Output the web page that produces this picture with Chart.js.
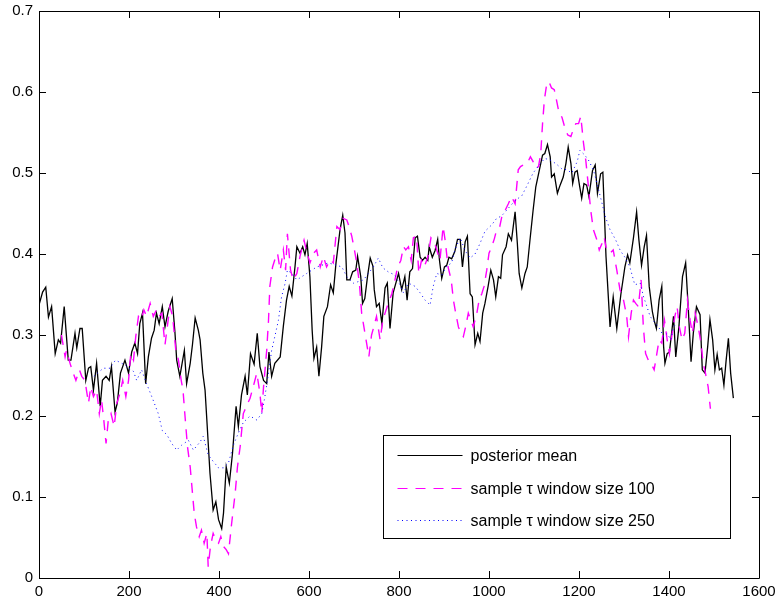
<!DOCTYPE html>
<html>
<head>
<meta charset="utf-8">
<script src="https://cdn.jsdelivr.net/npm/chart.js@4.4.1/dist/chart.umd.min.js"></script>
<style>
html,body{margin:0;padding:0;background:#fff;}
#wrap{width:778px;height:604px;position:relative;}
</style>
</head>
<body>
<div id="wrap"><canvas id="c" width="778" height="604"></canvas></div>
<script>
// ---- tick labels ----
const xTicks = [0, 200, 400, 600, 800, 1000, 1200, 1400, 1600];
const yTicks = [0, 0.1, 0.2, 0.3, 0.4, 0.5, 0.6, 0.7];

// ---- series labels ----
const seriesNames = ['posterior mean', 'sample \u03C4 window size 100', 'sample \u03C4 window size 250'];

// ---- posterior mean ----
const pmX = [0,8,15,21,28,36,43,48,56,65,71,80,84,91,96,104,110,115,121,128,136,141,149,156,161,169,174,181,191,199,206,213,219,224,230,237,243,250,256,261,267,274,280,287,296,302,306,313,323,328,336,341,347,354,358,364,369,373,380,387,393,399,406,410,416,423,430,438,443,450,458,463,470,478,485,491,499,506,511,517,524,536,543,550,556,562,569,573,580,586,591,596,602,607,611,617,622,628,633,641,648,654,660,669,675,680,684,691,697,704,708,715,719,724,730,736,742,745,750,756,762,769,774,780,787,799,806,813,818,824,830,836,841,847,852,858,864,867,874,880,886,890,895,901,906,911,917,924,930,936,941,947,952,958,963,969,975,980,986,991,998,1004,1010,1015,1021,1026,1030,1038,1043,1050,1058,1063,1067,1073,1080,1085,1091,1098,1104,1112,1119,1124,1130,1136,1139,1145,1152,1158,1165,1171,1176,1182,1186,1191,1196,1201,1206,1211,1217,1222,1230,1236,1241,1248,1253,1260,1269,1276,1284,1293,1302,1308,1313,1321,1328,1333,1339,1345,1350,1356,1363,1367,1372,1378,1384,1388,1391,1396,1401,1410,1415,1422,1430,1437,1443,1449,1454,1461,1469,1474,1480,1486,1491,1497,1502,1507,1512,1517,1522,1527,1532,1537,1543];
const pmY = [0.337,0.353,0.359,0.322,0.335,0.277,0.294,0.29,0.335,0.269,0.269,0.302,0.284,0.308,0.308,0.244,0.259,0.261,0.232,0.265,0.212,0.244,0.249,0.244,0.261,0.205,0.216,0.253,0.269,0.253,0.279,0.29,0.277,0.314,0.327,0.24,0.273,0.296,0.306,0.327,0.314,0.335,0.31,0.329,0.345,0.304,0.269,0.249,0.281,0.24,0.265,0.288,0.321,0.306,0.294,0.253,0.232,0.195,0.129,0.084,0.094,0.072,0.061,0.08,0.137,0.117,0.154,0.212,0.187,0.226,0.249,0.226,0.277,0.264,0.302,0.261,0.244,0.24,0.279,0.249,0.265,0.273,0.311,0.343,0.36,0.348,0.385,0.409,0.401,0.409,0.399,0.413,0.372,0.306,0.271,0.285,0.249,0.285,0.323,0.335,0.362,0.352,0.389,0.43,0.448,0.426,0.368,0.368,0.378,0.38,0.397,0.372,0.339,0.345,0.372,0.395,0.385,0.356,0.335,0.339,0.314,0.358,0.364,0.308,0.352,0.376,0.356,0.372,0.343,0.378,0.382,0.42,0.422,0.396,0.392,0.396,0.392,0.409,0.396,0.404,0.418,0.392,0.37,0.384,0.386,0.396,0.394,0.403,0.418,0.418,0.384,0.415,0.422,0.351,0.347,0.288,0.302,0.292,0.327,0.339,0.36,0.38,0.368,0.347,0.372,0.37,0.399,0.409,0.425,0.417,0.452,0.413,0.376,0.358,0.376,0.384,0.417,0.454,0.483,0.504,0.522,0.524,0.535,0.52,0.495,0.499,0.475,0.485,0.495,0.512,0.532,0.512,0.487,0.501,0.503,0.485,0.469,0.487,0.485,0.471,0.503,0.51,0.475,0.499,0.501,0.397,0.31,0.347,0.308,0.35,0.384,0.399,0.389,0.42,0.452,0.418,0.386,0.409,0.423,0.36,0.329,0.318,0.308,0.343,0.36,0.286,0.265,0.277,0.279,0.323,0.273,0.31,0.372,0.389,0.331,0.267,0.302,0.335,0.325,0.257,0.253,0.286,0.319,0.294,0.257,0.276,0.257,0.259,0.238,0.269,0.296,0.253,0.222];

// ---- sample tau, window 100 ----
const w100X = [50,58,61,69,76,82,90,95,102,110,115,121,128,134,139,144,149,154,160,167,173,180,186,193,199,204,210,215,221,227,233,239,247,254,261,267,273,280,286,291,297,304,310,316,320,324,330,336,341,345,350,356,361,367,373,376,381,387,393,399,404,410,416,421,428,436,441,447,454,461,469,476,484,491,495,499,506,510,513,519,524,530,536,543,548,552,559,565,573,580,589,594,602,610,617,625,632,639,647,654,662,669,676,684,689,695,701,706,712,717,722,728,733,739,744,750,758,764,769,776,784,791,797,804,810,815,821,827,832,839,844,850,856,864,871,878,884,891,898,903,909,916,921,926,932,938,943,948,954,960,965,973,978,984,989,995,1000,1006,1012,1017,1024,1030,1036,1043,1050,1058,1065,1070,1077,1085,1092,1098,1104,1110,1115,1119,1123,1128,1133,1139,1145,1150,1156,1162,1169,1175,1182,1188,1193,1199,1204,1210,1215,1221,1226,1232,1240,1245,1251,1256,1261,1269,1276,1284,1291,1299,1306,1310,1316,1321,1326,1332,1338,1343,1348,1354,1360,1367,1373,1378,1384,1390,1396,1401,1407,1413,1418,1423,1429,1435,1441,1447,1452,1458,1465,1471,1476,1481,1487,1492];
const w100Y = [0.3,0.273,0.281,0.265,0.253,0.244,0.257,0.249,0.244,0.216,0.236,0.224,0.232,0.203,0.22,0.195,0.166,0.195,0.203,0.187,0.216,0.228,0.244,0.224,0.244,0.277,0.269,0.298,0.323,0.319,0.331,0.323,0.339,0.323,0.331,0.323,0.327,0.288,0.314,0.335,0.323,0.281,0.269,0.244,0.232,0.203,0.162,0.137,0.105,0.08,0.063,0.051,0.059,0.043,0.055,0.014,0.039,0.055,0.047,0.043,0.051,0.039,0.035,0.03,0.067,0.105,0.137,0.162,0.203,0.212,0.222,0.236,0.253,0.228,0.203,0.236,0.281,0.318,0.36,0.384,0.393,0.401,0.38,0.405,0.38,0.425,0.38,0.368,0.376,0.397,0.417,0.405,0.389,0.401,0.405,0.384,0.397,0.384,0.393,0.389,0.434,0.43,0.444,0.442,0.434,0.422,0.405,0.389,0.364,0.327,0.31,0.29,0.273,0.3,0.31,0.323,0.294,0.318,0.327,0.339,0.351,0.368,0.384,0.392,0.409,0.405,0.409,0.392,0.42,0.422,0.376,0.392,0.384,0.396,0.42,0.415,0.405,0.392,0.434,0.415,0.384,0.368,0.343,0.327,0.31,0.302,0.298,0.31,0.327,0.318,0.31,0.327,0.343,0.351,0.36,0.38,0.401,0.409,0.419,0.43,0.434,0.45,0.454,0.462,0.471,0.462,0.504,0.508,0.51,0.512,0.52,0.514,0.506,0.508,0.524,0.561,0.59,0.609,0.613,0.605,0.603,0.59,0.573,0.569,0.555,0.547,0.545,0.555,0.561,0.561,0.57,0.537,0.516,0.483,0.454,0.43,0.417,0.405,0.413,0.421,0.405,0.401,0.405,0.38,0.356,0.343,0.323,0.298,0.327,0.343,0.339,0.335,0.368,0.31,0.277,0.269,0.265,0.257,0.277,0.294,0.29,0.318,0.294,0.277,0.302,0.323,0.335,0.31,0.294,0.302,0.343,0.318,0.302,0.327,0.31,0.29,0.265,0.253,0.236,0.209];

// ---- sample tau, window 250 ----
const w250X = [122,128,143,158,170,191,210,217,228,239,252,265,274,284,295,306,317,332,343,358,365,376,387,399,410,421,432,443,454,469,484,495,502,510,517,524,532,539,547,552,562,573,584,595,606,617,628,643,662,673,684,699,710,721,732,743,754,764,776,791,802,810,821,836,847,858,869,876,884,895,906,917,924,936,947,958,969,980,991,1006,1017,1028,1039,1058,1073,1085,1098,1113,1124,1136,1150,1162,1173,1184,1196,1202,1213,1221,1232,1240,1251,1258,1269,1281,1292,1302,1313,1324,1336,1343,1351,1358,1369,1380,1388,1396,1404,1410,1418];
const w250Y = [0.249,0.252,0.259,0.259,0.269,0.263,0.255,0.244,0.257,0.24,0.222,0.203,0.182,0.177,0.166,0.158,0.164,0.17,0.158,0.168,0.175,0.152,0.144,0.136,0.136,0.142,0.164,0.179,0.192,0.2,0.195,0.203,0.224,0.253,0.281,0.298,0.318,0.347,0.364,0.38,0.376,0.368,0.372,0.376,0.38,0.384,0.386,0.389,0.386,0.384,0.372,0.364,0.366,0.368,0.376,0.384,0.395,0.383,0.378,0.374,0.362,0.352,0.364,0.36,0.352,0.343,0.337,0.36,0.376,0.374,0.385,0.389,0.405,0.42,0.404,0.395,0.4,0.413,0.428,0.436,0.444,0.447,0.454,0.466,0.472,0.485,0.5,0.511,0.518,0.516,0.511,0.505,0.504,0.5,0.514,0.528,0.522,0.516,0.504,0.487,0.463,0.447,0.43,0.418,0.404,0.396,0.384,0.362,0.364,0.348,0.335,0.323,0.315,0.307,0.298,0.302,0.294,0.31,0.315];

function zip(xs, ys){ return xs.map((x,i)=>({x:x, y:ys[i]})); }

const FONT = '"Liberation Sans", Arial, Helvetica, sans-serif';

const framePlugin = {
  id: 'frame',
  afterDraw(chart){
    const ctx = chart.ctx, a = chart.chartArea;
    const xs = chart.scales.x, ys = chart.scales.y;
    ctx.save();
    ctx.strokeStyle = '#000';
    ctx.lineWidth = 1;
    ctx.beginPath();
    ctx.rect(Math.round(a.left)+0.5, Math.round(a.top)+0.5, Math.round(a.right-a.left), Math.round(a.bottom-a.top));
    ctx.stroke();
    const tl = 7;
    ctx.beginPath();
    xTicks.forEach(v=>{
      const p = Math.round(xs.getPixelForValue(v))+0.5;
      ctx.moveTo(p, a.bottom); ctx.lineTo(p, a.bottom - tl);
      ctx.moveTo(p, a.top); ctx.lineTo(p, a.top + tl);
    });
    yTicks.forEach(v=>{
      const p = Math.round(ys.getPixelForValue(v))+0.5;
      ctx.moveTo(a.left, p); ctx.lineTo(a.left + tl, p);
      ctx.moveTo(a.right, p); ctx.lineTo(a.right - tl, p);
    });
    ctx.stroke();

    // legend
    const L = Math.round(a.left + 344)+0.5, T = Math.round(a.top + 424)+0.5, W = 347, H = 103;
    ctx.fillStyle = '#fff';
    ctx.fillRect(L, T, W, H);
    ctx.strokeStyle = '#000';
    ctx.lineWidth = 1;
    ctx.strokeRect(L, T, W, H);
    const rows = [19, 52, 84];
    ctx.font = '16px ' + FONT;
    ctx.textBaseline = 'middle';
    ctx.textAlign = 'left';
    chart.data.datasets.forEach((ds, i)=>{
      const y = Math.round(T + rows[i]) + 0.5;
      ctx.beginPath();
      ctx.strokeStyle = ds.borderColor;
      ctx.lineWidth = Math.min(ds.borderWidth, 1.2);
      ctx.setLineDash(ds.borderDash || []);
      ctx.moveTo(L + 14, y); ctx.lineTo(L + 79, y);
      ctx.stroke();
      ctx.setLineDash([]);
      ctx.fillStyle = '#000';
      ctx.fillText(ds.label, L + 87, y + 1);
    });
    ctx.restore();
  }
};

new Chart(document.getElementById('c'), {
  type: 'line',
  data: {
    datasets: [
      { label: seriesNames[0], data: zip(pmX, pmY), borderColor: '#000000', borderWidth: 1.3, pointRadius: 0, tension: 0, order: 2 },
      { label: seriesNames[1], data: zip(w100X, w100Y), borderColor: '#ff00ff', borderWidth: 1.4, borderDash: [10, 8], pointRadius: 0, tension: 0, order: 1 },
      { label: seriesNames[2], data: zip(w250X, w250Y), borderColor: '#0000ff', borderWidth: 1, borderDash: [1, 3.5], pointRadius: 0, tension: 0, order: 0 }
    ]
  },
  options: {
    responsive: false,
    animation: false,
    devicePixelRatio: 1,
    layout: { padding: { top: 11, right: 19, bottom: 0, left: 0 } },
    plugins: { legend: { display: false }, tooltip: { enabled: false } },
    scales: {
      x: {
        type: 'linear', min: 0, max: 1600,
        afterBuildTicks(s){ s.ticks = xTicks.map(v=>({value:v})); },
        afterFit(s){ s.height = 26; s.paddingLeft = 0; s.paddingRight = 0; },
        grid: { display: false, drawTicks: false },
        border: { display: false },
        ticks: { color: '#000', font: { family: FONT, size: 15 }, padding: 5, maxRotation: 0, autoSkip: false,
                 callback: v => String(v) }
      },
      y: {
        type: 'linear', min: 0, max: 0.7,
        afterBuildTicks(s){ s.ticks = yTicks.map(v=>({value:v})); },
        afterFit(s){ s.width = 39; s.paddingTop = 0; s.paddingBottom = 0; },
        grid: { display: false, drawTicks: false },
        border: { display: false },
        ticks: { color: '#000', font: { family: FONT, size: 15 }, padding: 6, autoSkip: false,
                 callback: v => String(Math.round(v*10)/10) }
      }
    }
  },
  plugins: [framePlugin]
});
</script>
</body>
</html>
